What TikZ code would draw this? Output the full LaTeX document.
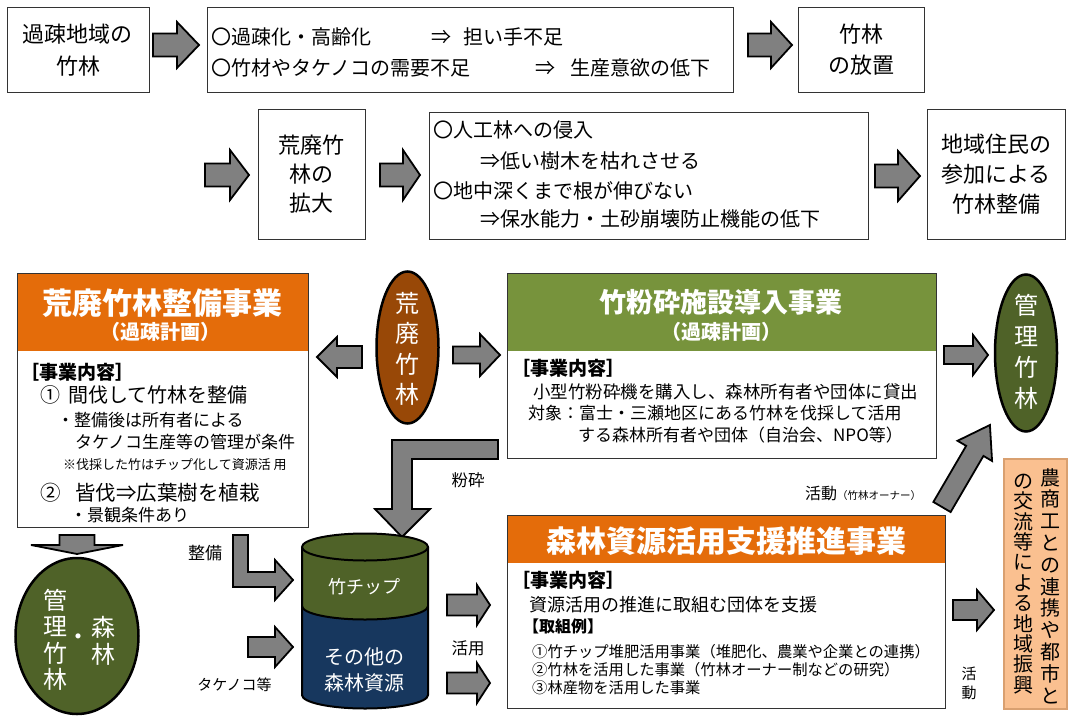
\documentclass[tikz,border=0pt]{standalone}
\usepackage{fontspec}
\setmainfont{Noto Sans CJK JP}
\usetikzlibrary{shapes.geometric}
\definecolor{hdorange}{HTML}{E46C0A}
\definecolor{hdgreen}{HTML}{77933C}
\definecolor{dkgreen}{HTML}{4F6228}
\definecolor{cylnavy}{HTML}{17375E}
\definecolor{bamboobrown}{HTML}{984807}
\definecolor{peach}{HTML}{FAC090}
\definecolor{peachline}{HTML}{D9A070}
\definecolor{arrowgray}{HTML}{808080}
\newcommand\fsz[2]{\fontsize{#1}{#2}\selectfont}
\tikzset{pics/barrow/.style args={#1/#2/#3/#4}{code={%
  \draw[barr] (0,-#1) -- (#3,-#1) -- (#3,-#2) -- (#4,0) -- (#3,#2) -- (#3,#1) -- (0,#1) -- cycle;}}}
\begin{document}
\begin{tikzpicture}[x=1pt,y=-1pt,
 rowbox/.style={draw=black!80, line width=1pt, fill=white, inner sep=0, align=center},
 txt/.style={anchor=west, inner sep=0},
 ctxt/.style={inner sep=0, align=center},
 barr/.style={fill=arrowgray, draw=black, line width=1.8pt, line join=miter},
 ell/.style={ellipse, draw=black, line width=2.5pt, inner sep=0},
 wt/.style={text=white, inner sep=0, align=center},
 panel/.style={anchor=north west, draw=black!80, line width=1pt, inner sep=0},
 head/.style={anchor=north west, inner sep=0},
]
\fill[white] (0,0) rectangle (1068,717);
\useasboundingbox (0,0) rectangle (1068,717);

% ---------- Row 1
\node[rowbox, minimum width=142, minimum height=84, font=\fsz{22}{32}] (A) at (78,50) {過疎地域の\\竹林};
\pic (a1) at (153,45) {barrow=11.5/23/24/46};
\node[rowbox, minimum width=526, minimum height=84] (B) at (470,50) {};
\node[txt, font=\fsz{20}{20}] (B1) at (211,37) {〇過疎化・高齢化};
\node[txt, font=\fsz{20}{20}] (B2) at (431,37) {⇒};
\node[txt, font=\fsz{20}{20}] (B3) at (463,37) {担い手不足};
\node[txt, font=\fsz{20}{20}] (B4) at (211,68) {〇竹材やタケノコの需要不足};
\node[txt, font=\fsz{20}{20}] (B5) at (535,68) {⇒};
\node[txt, font=\fsz{20}{20}] (B6) at (570,68) {生産意欲の低下};
\pic (a2) at (748,45) {barrow=11.5/23/23/44};
\node[rowbox, minimum width=126, minimum height=84, font=\fsz{22}{31}] (C) at (861,50) {竹林\\の放置};

% ---------- Row 2
\pic (a3) at (205,175) {barrow=11.5/25/25/44};
\node[rowbox, minimum width=107, minimum height=130, font=\fsz{22}{29}] (D) at (311.5,174) {荒廃竹\\林の\\拡大};
\pic (a4) at (380,175) {barrow=11.5/25/23/40};
\node[rowbox, minimum width=439, minimum height=127] (E) at (648.5,175.5) {};
\node[txt, font=\fsz{20}{20}] (E1) at (433,130) {〇人工林への侵入};
\node[txt, font=\fsz{20}{20}] (E2) at (480,161) {⇒低い樹木を枯れさせる};
\node[txt, font=\fsz{20}{20}] (E3) at (433,191) {〇地中深くまで根が伸びない};
\node[txt, font=\fsz{20}{20}] (E4) at (480,219) {⇒保水能力・土砂崩壊防止機能の低下};
\pic (a5) at (875,176) {barrow=11.5/25/23/45};
\node[rowbox, minimum width=138, minimum height=130, font=\fsz{22}{30}] (F) at (996,174) {地域住民の\\参加による\\竹林整備};

% ---------- Box G
\node[head, fill=hdorange, minimum width=291, minimum height=78] (Gh) at (17,273) {};
\node[panel, minimum width=291, minimum height=254] (G) at (17,273) {};
\node[wt, font=\bfseries\fsz{30}{30}] (Gt1) at (162.5,303) {荒廃竹林整備事業};
\node[wt, font=\bfseries\fsz{20}{20}] (Gt2) at (160,332) {（過疎計画）};
\node[txt, font=\bfseries\fsz{19}{19}] (G1) at (20,372) {［事業内容］};
\node[txt, font=\fsz{20}{20}] (G2a) at (40,395) {①};
\node[txt, font=\fsz{20}{20}] (G2b) at (68,395) {間伐して竹林を整備};
\node[txt, font=\fsz{17}{17}] (G3) at (57,420) {・整備後は所有者による};
\node[txt, font=\fsz{17}{17}] (G4) at (75,442) {タケノコ生産等の管理が条件};
\node[txt, font=\fsz{13}{13}] (G5) at (63,465) {※伐採した竹はチップ化して資源活 用};
\node[txt, font=\fsz{20.5}{20.5}] (G6a) at (40,493) {②};
\node[txt, font=\fsz{20.5}{20.5}] (G6b) at (75,493) {皆伐⇒広葉樹を植栽};
\node[txt, font=\fsz{17}{17}] (G7) at (70,515) {・景観条件あり};

% ---------- brown ellipse
\pic[rotate=180] (a6) at (362,357) {barrow=11/20/25/45};
\node[ell, fill=bamboobrown, minimum width=62, minimum height=152] (K) at (407.5,347.5) {};
\node[wt, font=\fsz{24}{30.5}] (Kt) at (407.5,349) {荒\\廃\\竹\\林};
\pic (a7) at (453,355) {barrow=8.5/21/27/47};

% ---------- Box H
\node[head, fill=hdgreen, minimum width=429, minimum height=78] (Hh) at (507,273) {};
\node[panel, minimum width=429, minimum height=185] (H) at (507,273) {};
\node[wt, font=\bfseries\fsz{27}{27}] (Ht1) at (721,302) {竹粉砕施設導入事業};
\node[wt, font=\bfseries\fsz{20}{20}] (Ht2) at (721,332) {（過疎計画）};
\node[txt, font=\bfseries\fsz{19}{19}] (H1) at (511,368) {［事業内容］};
\node[txt, font=\fsz{17.5}{17.5}] (H2) at (533,392) {小型竹粉砕機を購入し、森林所有者や団体に貸出};
\node[txt, font=\fsz{17}{17}] (H3) at (528,413) {対象：富士・三瀬地区にある竹林を伐採して活用};
\node[txt, font=\fsz{17}{17}] (H4) at (578,435) {する森林所有者や団体（自治会、NPO等）};

% ---------- right ellipse
\pic (a8) at (944,355) {barrow=9/20/29/44};
\node[ell, fill=dkgreen, minimum width=62, minimum height=157] (M) at (1026,353) {};
\node[wt, font=\fsz{24}{31}] (Mt) at (1026,352) {管\\理\\竹\\林};
\pic[rotate=59.7] (a9) at (942,507) {barrow=10/20/65/95};
\node[txt, font=\fsz{16}{16}] (L1) at (805,493) {活動{\fsz{10.5}{10.5}（竹林オーナー）}};

% ---------- L arrow from H to cylinder
\draw[barr] (498,440) -- (392,440) -- (392,509) -- (375,509) -- (402,537) -- (430,509) -- (412,509) -- (412,459) -- (498,459) -- cycle;
\node[ctxt, font=\fsz{16.5}{16.5}] (L2) at (468,480) {粉砕};

% ---------- down arrow + left ellipse
\pic[rotate=-90] (a10) at (77,535) {barrow=17.5/46/10/19};
\node[ell, fill=dkgreen, minimum width=123, minimum height=156] (N) at (77,636) {};
\node[wt, font=\fsz{24}{26.5}] (Nt1) at (55,640) {管\\理\\竹\\林};
\node[wt, font=\fsz{24}{27}] (Nt2) at (103,641) {森\\林};
\node[wt, font=\fsz{24}{24}] (Nt3) at (78,640) {・};

% ---------- L arrow 整備 and タケノコ arrow
\draw[barr] (233,535) -- (248,535) -- (248,572) -- (275,572) -- (275,560) -- (293,580) -- (275,600) -- (275,587) -- (233,587) -- cycle;
\node[ctxt, font=\fsz{17}{17}] (L3) at (205,553) {整備};
\pic (a11) at (248,647) {barrow=10/20/27/45};
\node[ctxt, font=\fsz{15}{15}] (L4) at (234.5,685) {タケノコ等};

% ---------- cylinder
\fill[cylnavy] (302,606) rectangle (428,695);
\fill[cylnavy] (365,695) ellipse [x radius=63, y radius=13.5];
\fill[dkgreen] (302,547) rectangle (428,606);
\fill[dkgreen] (302,606) arc[start angle=180, end angle=0, x radius=63, y radius=13.5] -- cycle;
\draw[black, line width=2pt] (302,547) -- (302,695) arc[start angle=180, end angle=0, x radius=63, y radius=13.5] -- (428,547);
\draw[black, line width=2pt] (302,606) arc[start angle=180, end angle=0, x radius=63, y radius=13.5];
\draw[black, line width=2pt, fill=dkgreen] (365,547) ellipse [x radius=63, y radius=13.5];
\node[wt, font=\fsz{18}{18}] (Y1) at (364,587) {竹チップ};
\node[wt, font=\fsz{20}{26}] (Y2) at (364,670) {その他の\\森林資源};

% ---------- 活用 arrows
\pic (a12) at (447,605) {barrow=10.5/20/30/43};
\pic (a13) at (447,683) {barrow=10.5/20/30/43};
\node[ctxt, font=\fsz{16.5}{16.5}] (L5) at (468,648) {活用};

% ---------- Box I
\node[head, fill=hdorange, minimum width=438, minimum height=48] (Ih) at (507,515) {};
\node[panel, minimum width=438, minimum height=193] (I) at (507,515) {};
\node[wt, font=\bfseries\fsz{30}{30}] (It) at (726,541) {森林資源活用支援推進事業};
\node[txt, font=\bfseries\fsz{19}{19}] (I1) at (511,580) {［事業内容］};
\node[txt, font=\fsz{18}{18}] (I2) at (529,605) {資源活用の推進に取組む団体を支援};
\node[txt, font=\bfseries\fsz{16}{16}] (I3) at (523,626) {【取組例】};
\node[txt, font=\fsz{15.3}{15.3}] (I4) at (532,652) {①竹チップ堆肥活用事業（堆肥化、農業や企業との連携）};
\node[txt, font=\fsz{15.3}{15.3}] (I5) at (532,670) {②竹林を活用した事業（竹林オーナー制などの研究）};
\node[txt, font=\fsz{15.3}{15.3}] (I6) at (532,688) {③林産物を活用した事業};

% ---------- to peach box
\pic (a14) at (953,610) {barrow=10/20/24/41};
\node[ctxt, font=\fsz{15}{19}] (L6) at (969,683) {活\\動};
\node[anchor=north west, fill=peach, draw=peachline, line width=1.5pt, minimum width=63, minimum height=250, inner sep=0] (P) at (1003,458) {};
\node[ctxt, font=\fsz{20}{21.8}] (P1) at (1050,586) {農\\商\\工\\と\\の\\連\\携\\や\\都\\市\\と};
\node[ctxt, font=\fsz{20}{20.4}] (P2) at (1023,584) {の\\交\\流\\等\\に\\よ\\る\\地\\域\\振\\興};
\end{tikzpicture}
\end{document}
